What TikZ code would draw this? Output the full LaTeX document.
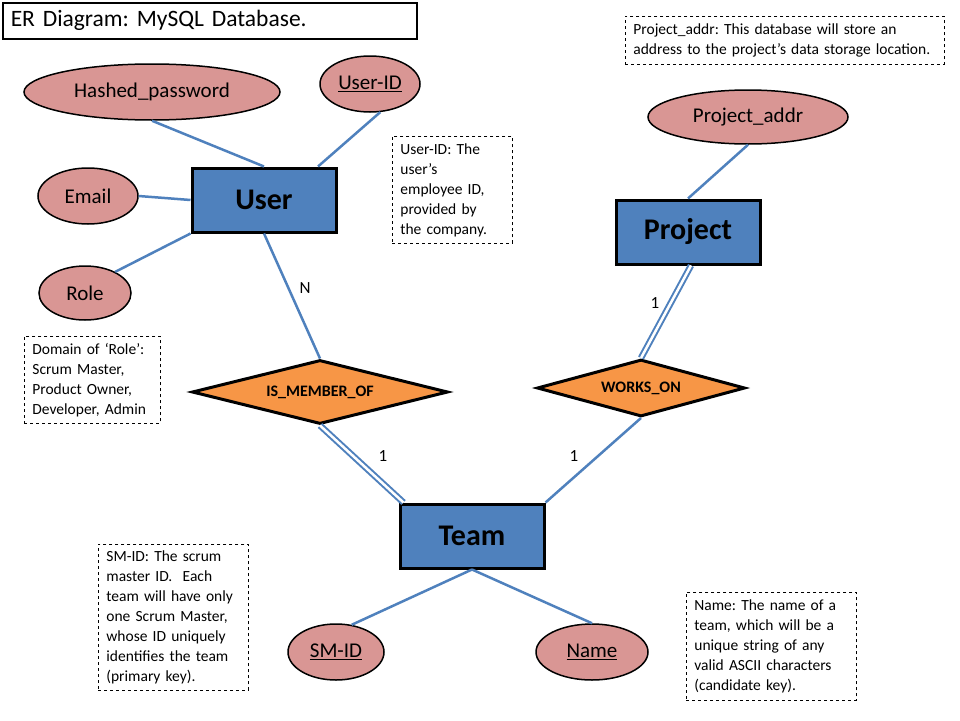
\documentclass[tikz,border=0pt]{standalone}
\usepackage{fontspec}
\setmainfont{Carlito}
\frenchspacing
\usetikzlibrary{shapes.geometric}
\definecolor{entityblue}{RGB}{79,129,189}
\definecolor{attrpink}{RGB}{217,150,148}
\definecolor{relorange}{RGB}{247,150,70}
\tikzset{
    entity/.style={draw=black, line width=3pt, fill=entityblue, minimum width=144pt, minimum height=64pt, font=\fontsize{30}{36}\selectfont\bfseries},
    attr/.style={ellipse, draw=black, line width=1.5pt, fill=attrpink, inner sep=0pt, minimum height=56pt, font=\fontsize{21}{25}\selectfont},
    rel/.style={diamond, aspect=4, draw=black, line width=3pt, fill=relorange, inner sep=0pt, font=\fontsize{16}{19}\selectfont\bfseries},
    link/.style={draw=entityblue, line width=2.5pt},
    total/.style={draw=entityblue, line width=2pt, double=white, double distance=2.5pt},
    card/.style={font=\fontsize{17}{20}\selectfont},
    notebox/.style={draw, dashed, line width=0.8pt, anchor=north west, align=left, inner xsep=8pt, font=\fontsize{15.5}{20}\selectfont}
}
\begin{document}
\begin{tikzpicture}[x=1pt, y=-1pt]
    \path[use as bounding box, fill=white] (0,0) rectangle (960,720);
    % title
    \node[draw, line width=1.5pt, anchor=north west, minimum width=414pt, minimum height=36pt, text width=398pt, align=left, font=\fontsize{23.5}{28}\selectfont] (title) at (2,2) {ER Diagram: MySQL Database.};
    % entities, attributes and relations
    \node[attr, minimum width=256pt] (hashpw) at (152,92) {Hashed\_password};
    \node[attr, minimum width=100pt] (userid) at (370,84) {\underline{User-ID}};
    \node[attr, minimum width=100pt] (email) at (88,196) {Email};
    \node[attr, minimum width=92pt, minimum height=54pt] (role) at (85,293) {Role};
    \node[entity] (user) at (264,200) {User};
    \node[attr, minimum width=200pt, minimum height=54pt] (projaddr) at (748,117) {Project\_addr};
    \node[entity] (project) at (688,232) {Project};
    \node[rel, minimum width=256pt, minimum height=64pt] (member) at (320,392) {IS\_MEMBER\_OF};
    \node[rel, minimum width=208pt, minimum height=57pt] (works) at (641,388) {WORKS\_ON};
    \node[entity] (team) at (472,536) {Team};
    \node[attr, minimum width=96pt] (smid) at (336,652) {\underline{SM-ID}};
    \node[attr, minimum width=112pt] (name) at (592,652) {\underline{Name}};
    % connectors
    \draw[link] (hashpw.south) -- (user.north);
    \draw[link] (userid.-70) -- ([xshift=54pt]user.north);
    \draw[link] (email.east) -- (user.west);
    \draw[link] (role.35) -- (user.south west);
    \draw[link] (user.south) -- (member.north);
    \draw[total] (member.south) -- ([xshift=5pt]team.north west);
    \draw[link] (works.south) -- (team.north east);
    \draw[total] (works.north) -- ([xshift=3pt]project.south);
    \draw[link] (projaddr.south) -- (project.north);
    \draw[link] (team.south) -- (smid.60);
    \draw[link] (team.south) -- (name.north);
    % cardinalities
    \node[card] (cardn) at (305,288) {N};
    \node[card] (cardm) at (383,456) {1};
    \node[card] (cardw) at (574,456) {1};
    \node[card] (cardp) at (655,303) {1};
    % notes
    \node[notebox, minimum width=319pt, minimum height=48pt, text width=303pt] (noteproj) at (625,16) {Project\_addr: This database will store an\\address to the project’s data storage location.};
    \node[notebox, minimum width=120pt, minimum height=107pt, text width=104pt] (noteuid) at (392,136) {User-ID: The\\user’s\\employee ID,\\provided by\\the company.};
    \node[notebox, minimum width=136pt, minimum height=87pt, text width=120pt] (noterole) at (24,336) {Domain of ‘Role’:\\Scrum Master,\\Product Owner,\\Developer, Admin};
    \node[notebox, minimum width=150pt, minimum height=146pt, text width=134pt] (notesm) at (98,544) {SM-ID: The scrum\\master ID.\ \ Each\\team will have only\\one Scrum Master,\\whose ID uniquely\\identifies the team\\(primary key).};
    \node[notebox, minimum width=170pt, minimum height=108pt, text width=154pt] (notename) at (686,592) {Name: The name of a\\team, which will be a\\unique string of any\\valid ASCII characters\\(candidate key).};
\end{tikzpicture}
\end{document}
